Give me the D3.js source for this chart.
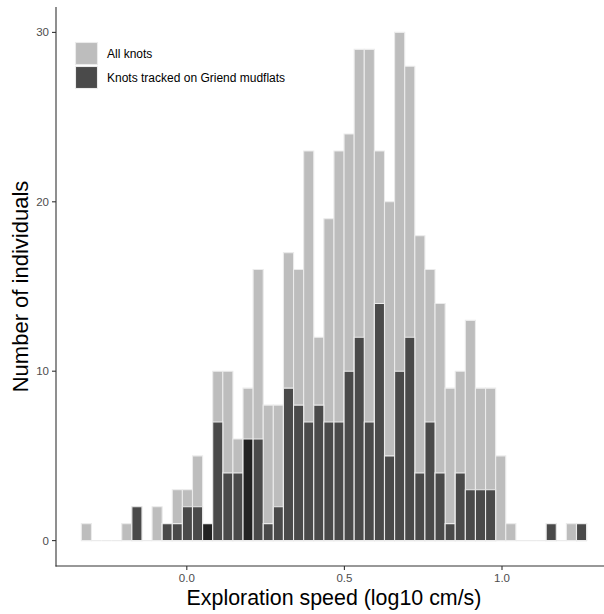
<!DOCTYPE html>
<html>
<head>
<meta charset="utf-8">
<script src="https://cdn.jsdelivr.net/npm/d3@7"></script>
<style>
  body { margin: 0; background: #fff; }
  svg { display: block; font-family: "Liberation Sans", Arial, Helvetica, sans-serif; }
</style>
</head>
<body>
<svg id="chart" width="604" height="614"></svg>
<script>
// ---- data (histogram of 50 bins) ----
const binStart = -0.3346;
const binWidth = 0.03206;
const allKnots = [1,0,0,0,1,2,0,2,1,3, 3,5,1,10,10,6,9,16,8,8, 17,16,23,12,19,23,24,29,29,23, 20,30,28,18,16,14,9,10,13,9, 9,5,1,0,0,0,1,0,1,1];
const griendKnots = [0,0,0,0,0,2,0,0,1,1, 2,2,1,7,4,4,6,6,1,2, 9,8,7,8,7,7,10,12,7,14, 5,10,12,4,7,4,1,4,3,3, 3,0,0,0,0,0,1,0,0,1];
const darkerBins = [12, 16];
const seriesNames = ["All knots", "Knots tracked on Griend mudflats"];
const xTicks = [0.0, 0.5, 1.0];
const yTicks = [0, 10, 20, 30];

const colLight = "#bdbdbd", colDark = "#4a4a4a", colDarker = "#222222", colEdge = "#ebebeb";

const svg = d3.select("#chart");
const panel = {left: 56, top: 7, right: 612, bottom: 566};

const x = d3.scaleLinear().domain([0, 1]).range([186.8, 502]);
const y = d3.scaleLinear().domain([0, 30]).range([540.6, 32.4]);

const bins = allKnots.map((v, i) => ({
  i, x0: binStart + i * binWidth, x1: binStart + (i + 1) * binWidth,
  all: v, griend: griendKnots[i]
}));

function barPath(d, v) {
  const x0 = x(d.x0), x1 = x(d.x1), y0 = y(0), y1 = y(v);
  return `M${x0},${y0}V${y1}H${x1}V${y0}Z`;
}

const g = svg.append("g");
g.selectAll("path.all").data(bins).join("path")
  .attr("class", "all")
  .attr("d", d => barPath(d, d.all))
  .attr("fill", colLight).attr("stroke", colEdge).attr("stroke-width", 1.1);

g.selectAll("path.gr").data(bins.filter(d => d.griend > 0)).join("path")
  .attr("class", "gr")
  .attr("d", d => barPath(d, d.griend))
  .attr("fill", d => darkerBins.includes(d.i) ? colDarker : colDark)
  .attr("stroke", colEdge).attr("stroke-width", 1.1);

// axes
const axisCol = "#333333";
svg.append("line").attr("x1", panel.left).attr("x2", panel.left)
  .attr("y1", panel.top).attr("y2", panel.bottom + 0.5)
  .attr("stroke", axisCol).attr("stroke-width", 1.1);
svg.append("line").attr("x1", panel.left - 0.5).attr("x2", 604)
  .attr("y1", panel.bottom).attr("y2", panel.bottom)
  .attr("stroke", axisCol).attr("stroke-width", 1.1);

const yAxis = svg.append("g");
yTicks.forEach(t => {
  yAxis.append("line").attr("x1", panel.left - 4).attr("x2", panel.left)
    .attr("y1", y(t)).attr("y2", y(t)).attr("stroke", axisCol).attr("stroke-width", 1.1);
  yAxis.append("text").attr("x", panel.left - 7).attr("y", y(t)).attr("dy", "0.35em")
    .attr("text-anchor", "end").attr("font-size", 11.5).attr("fill", "#4d4d4d").text(t);
});
const xAxis = svg.append("g");
xTicks.forEach(t => {
  xAxis.append("line").attr("x1", x(t)).attr("x2", x(t))
    .attr("y1", panel.bottom).attr("y2", panel.bottom + 4).attr("stroke", axisCol).attr("stroke-width", 1.1);
  xAxis.append("text").attr("x", x(t)).attr("y", panel.bottom + 16)
    .attr("text-anchor", "middle").attr("font-size", 11.5).attr("fill", "#4d4d4d").text(d3.format(".1f")(t));
});

svg.append("text").attr("x", (panel.left + panel.right) / 2).attr("y", 605)
  .attr("text-anchor", "middle").attr("font-size", 21.4).attr("fill", "#000")
  .text("Exploration speed (log10 cm/s)");
svg.append("text").attr("transform", `translate(28,${(panel.top + panel.bottom) / 2}) rotate(-90)`)
  .attr("text-anchor", "middle").attr("font-size", 22).attr("fill", "#000")
  .text("Number of individuals");

// legend
const leg = svg.append("g").attr("transform", "translate(75,42)");
[colLight, colDark].forEach((c, k) => {
  leg.append("rect").attr("x", 0.5).attr("y", k * 24 + 0.5).attr("width", 22).attr("height", 22)
    .attr("fill", c).attr("stroke", colEdge).attr("stroke-width", 1.1);
  leg.append("text").attr("x", 32).attr("y", k * 24 + 11.5).attr("dy", "0.35em")
    .attr("font-size", 12).attr("fill", "#000").text(seriesNames[k]);
});
</script>
</body>
</html>
